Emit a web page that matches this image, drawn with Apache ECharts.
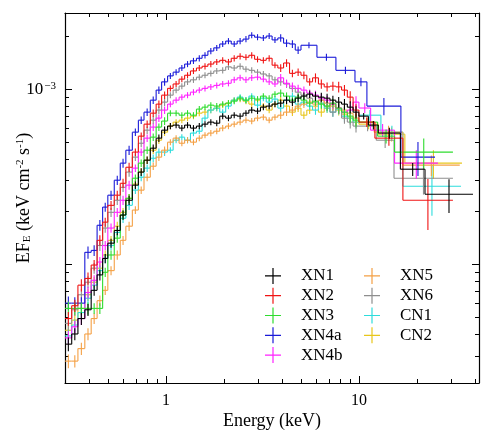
<!DOCTYPE html>
<html>
<head>
<meta charset="utf-8">
<script src="https://cdn.jsdelivr.net/npm/echarts@6/dist/echarts.min.js"></script>
<style>
  html, body { margin: 0; background: #fff; }
  #chart { width: 498px; height: 444px; }
</style>
</head>
<body>
<div id="chart"></div>
<script>
// shared fine channel grid (keV bin edges) and typical % error per channel
const gridEdges = [0.30, 0.325, 0.35, 0.38, 0.41, 0.44, 0.47, 0.50, 0.54, 0.58, 0.62, 0.67, 0.72, 0.77, 0.83, 0.89, 0.95,
  1.02, 1.09, 1.17, 1.25, 1.34, 1.44, 1.54, 1.65, 1.77, 1.90, 2.04, 2.18, 2.34, 2.51, 2.69, 2.88, 3.09, 3.31,
  3.55, 3.80, 4.07, 4.37, 4.68, 5.01, 5.37, 5.75, 6.17, 6.61, 7.08, 7.59, 8.13, 8.71, 9.33, 10.0];
const gridErrPct = [9, 8, 8, 8, 7, 7, 6, 6, 6, 6, 6, 5, 5, 5, 5, 5, 5, 4, 4, 4, 4, 4, 4, 4, 4, 4, 4, 4, 4, 4,
  4, 4, 4, 4, 4, 4, 5, 5, 5, 5, 5, 5, 6, 6, 6, 6, 7, 7, 8, 8];

// EF_E in units of 1e-4 keV cm^-2 s^-1, one value per grid channel
const xn1Flux = [0.35, 0.40, 0.49, 0.55, 0.71, 0.87, 1.08, 1.32, 1.56, 1.91, 2.32, 2.83, 3.36, 3.93, 4.60, 5.25, 5.83, 6.15, 6.23, 5.99,
  6.23, 5.99, 6.15, 6.31, 6.48, 6.39, 7.01, 6.83, 7.10, 7.01, 7.29, 7.59, 7.49, 7.89, 8.0, 8.21, 8.32, 8.65, 8.43, 8.88,
  9.12, 9.36, 9.12, 9.0, 8.88, 8.65, 8.43, 8.21, 7.89, 7.39];
const xn2Flux = [0.49, 0.58, 0.76, 0.83, 0.99, 1.37, 1.74, 2.17, 2.48, 2.90, 3.58, 4.37, 5.39, 6.31, 7.29, 8.21, 9.24, 10.1, 10.7, 11.4,
  12.0, 12.7, 13.2, 13.5, 13.9, 14.3, 14.6, 14.3, 15.0, 15.4, 15.2, 15.6, 14.8, 14.6, 15.0, 13.7, 13.2, 14.1, 12.3, 12.5,
  12.0, 11.0, 11.6, 10.7, 10.3, 10.4, 10.3, 9.87, 9.0, 7.59];
const xn3Flux = [0.56, 0.56, 0.56, 0.56, 0.56, 0.56, 0.90, 1.13, 1.41, 1.91, 2.38, 3.10, 3.78, 4.48, 5.32, 6.07, 6.57, 7.29, 7.29, 7.10,
  7.29, 7.10, 7.69, 7.89, 8.10, 8.0, 8.21, 8.32, 8.54, 8.88, 8.65, 8.88, 8.77, 9.12, 8.88, 9.36, 9.49, 9.12, 8.65, 9.0,
  8.65, 8.32, 8.54, 8.21, 8.0, 8.32, 7.79, 7.39, 7.01, 6.65];
const xn4aFlux = [0.60, 0.60, 0.60, 1.17, 1.20, 1.67, 2.12, 2.48, 3.02, 3.78, 4.48, 5.68, 6.65, 7.39, 8.65, 9.87, 11.0, 11.9, 12.5, 13.2,
  13.9, 14.5, 15.0, 15.6, 16.5, 17.2, 18.1, 18.8, 18.1, 18.8, 19.3, 20.3, 19.8, 19.6, 20.1, 19.1, 19.6, 18.3, 18.1, 16.7];
const xn4bFlux = [0.38, 0.44, 0.49, 0.69, 0.81, 1.03, 1.28, 1.61, 1.98, 2.32, 2.83, 3.54, 4.37, 5.25, 6.07, 6.83, 7.59, 8.21, 8.65, 9.0,
  9.24, 9.61, 9.87, 10.1, 10.3, 10.5, 10.7, 10.8, 11.3, 11.6, 11.3, 11.6, 11.7, 11.4, 11.0, 10.7, 11.6, 10.8, 10.4, 10.1,
  9.87, 9.49, 9.24, 8.88, 8.65, 8.21, 7.79, 7.39, 7.59, 8.43];
const xn5Flux = [0.28, 0.28, 0.33, 0.40, 0.49, 0.62, 0.71, 0.92, 1.13, 1.37, 1.65, 2.04, 2.65, 3.14, 3.63, 4.09, 4.48, 4.98, 5.25, 4.91,
  5.11, 4.98, 5.25, 5.46, 5.61, 5.75, 5.99, 6.15, 6.31, 6.48, 6.65, 6.57, 6.83, 6.92, 6.65, 6.92, 7.10, 7.39, 7.59, 8.0,
  8.21, 8.43, 8.21, 8.65, 8.32, 8.0, 7.79, 7.59, 7.29, 6.83];
const xn6Flux = [0.46, 0.55, 0.67, 0.79, 0.95, 1.28, 1.61, 1.98, 2.32, 2.75, 3.36, 4.09, 4.91, 5.83, 6.65, 7.59, 8.43, 9.24, 9.87, 10.4,
  11.0, 11.3, 11.7, 12.0, 12.3, 12.7, 12.8, 13.4, 13.2, 13.5, 13.0, 12.8, 12.5, 12.2, 11.9, 11.3, 11.0, 10.7, 10.1, 9.61,
  9.24, 8.88, 8.43, 8.65, 8.0, 7.39, 7.79, 6.83, 6.48, 6.15];
const cn1Flux = [0.39, 0.45, 0.53, 0.64, 0.76, 0.92, 1.08, 1.28, 1.52, 1.83, 2.17, 2.65, 3.14, 3.54, 4.03, 4.37, 4.37, 4.48, 5.11, 5.32,
  5.11, 5.61, 5.75, 6.83, 7.59, 7.79, 7.39, 8.0, 8.65, 9.0, 8.65, 9.12, 8.10, 8.88, 8.43, 8.77, 7.79, 8.65, 9.12, 8.21,
  8.43, 8.0, 7.59, 8.32, 7.79, 7.39, 7.69, 7.01, 6.83, 6.48];
const cn2Flux = [0.42, 0.48, 0.56, 0.67, 0.79, 0.95, 1.13, 1.37, 1.65, 1.98, 2.38, 2.87, 3.36, 3.93, 4.48, 5.11, 5.68, 6.15, 6.48, 6.65,
  6.83, 7.01, 7.29, 7.39, 7.59, 7.79, 8.10, 8.32, 8.65, 8.77, 8.54, 8.21, 8.65, 8.0, 7.59, 8.21, 8.65, 8.0, 7.39, 7.79,
  7.10, 7.59, 8.0, 7.39, 7.79, 8.21, 7.59, 7.20, 6.83, 6.48];

// wide high-energy bins: [E low, E high, EF_E, error] (1e-4 units)
const xn1Tail = [[10.0, 11.2, 7.01, 0.3], [11.2, 12.6, 6.23, 0.35], [12.6, 16.4, 5.61, 0.4], [16.4, 22.0, 3.49, 0.3], [22.0, 39.0, 2.51, 0.55]];
const xn2Tail = [[10.0, 12.1, 6.48, 0.4], [12.1, 16.9, 5.25, 0.5], [16.9, 30.7, 2.32, 0.75]];
const xn3Tail = [[10.0, 12.5, 6.48, 0.4], [12.5, 15.3, 5.39, 0.5], [15.3, 30.7, 4.37, 0.85]];
const xn4aTail = [[5.01, 6.06, 17.8, 0.7], [6.06, 7.60, 15.2, 0.7], [7.60, 9.54, 12.8, 0.6], [9.54, 11.0, 11.0, 0.6], [11.0, 16.5, 8.0, 0.9], [16.5, 24.8, 4.09, 0.9]];
const xn4bTail = [[10.0, 11.5, 7.8, 0.5], [11.5, 15.3, 5.83, 0.5], [15.3, 25.7, 3.78, 0.7]];
const xn5Tail = [[10.0, 12.0, 6.48, 0.4], [12.0, 16.9, 5.68, 0.5], [16.9, 33.3, 3.68, 0.5]];
const xn6Tail = [[10.0, 12.3, 6.15, 0.4], [12.3, 15.2, 5.11, 0.5], [15.2, 30.7, 3.10, 0.6]];
const cn1Tail = [[10.0, 13.0, 7.10, 0.5], [13.0, 16.9, 5.68, 0.5], [16.9, 33.8, 2.79, 0.9]];
const cn2Tail = [[10.0, 12.6, 6.31, 0.4], [12.6, 17.3, 5.53, 0.5], [17.3, 34.2, 3.78, 0.7]];

const xMajor = [1, 10];
const xMinor = [0.4, 0.5, 0.6, 0.7, 0.8, 0.9, 2, 3, 4, 5, 6, 7, 8, 9, 20, 30, 40];
const yMajor = [1e-4, 1e-3];
const yMinor = [3e-5, 4e-5, 5e-5, 6e-5, 7e-5, 8e-5, 9e-5, 2e-4, 3e-4, 4e-4, 5e-4, 6e-4, 7e-4, 8e-4, 9e-4, 2e-3];
const yLabelled = [1e-3];

const groups = [
  { name: 'XN1', color: '#000000', flux: xn1Flux, tail: xn1Tail },
  { name: 'XN2', color: '#f01414', flux: xn2Flux, tail: xn2Tail },
  { name: 'XN3', color: '#2edc2e', flux: xn3Flux, tail: xn3Tail },
  { name: 'XN4a', color: '#1a1ad8', flux: xn4aFlux, tail: xn4aTail },
  { name: 'XN4b', color: '#ff22ff', flux: xn4bFlux, tail: xn4bTail },
  { name: 'XN5', color: '#f4a045', flux: xn5Flux, tail: xn5Tail },
  { name: 'XN6', color: '#8e8e8e', flux: xn6Flux, tail: xn6Tail },
  { name: 'CN1', color: '#2ddcdc', flux: cn1Flux, tail: cn1Tail },
  { name: 'CN2', color: '#e8c61c', flux: cn2Flux, tail: cn2Tail },
];

const FONT = '"Liberation Serif", "DejaVu Serif", serif';
const cross = 'path://M0,7.4H16V8.6H0Z M7.4,0H8.6V16H7.4Z';

function binsOf(g) {
  const rows = g.flux.map((f, i) => [gridEdges[i], gridEdges[i + 1], f, f * gridErrPct[i] / 100]);
  g.tail.forEach(t => rows.push(t));
  return rows.map(r => [r[0], r[1], r[2] * 1e-4, r[3] * 1e-4]);
}

function renderBins(rows, color) {
  return function (params, api) {
    const i = params.dataIndex;
    const [lo, hi, f, e] = rows[i];
    const style = { stroke: color, lineWidth: 1.1, fill: null };
    const a = api.coord([lo, f]);
    const b = api.coord([hi, f]);
    const xc = Math.sqrt(lo * hi);
    const t = api.coord([xc, f + e]);
    const u = api.coord([xc, f - e]);
    const children = [
      { type: 'line', shape: { x1: a[0], y1: a[1], x2: b[0], y2: b[1] }, style },
      { type: 'line', shape: { x1: t[0], y1: t[1], x2: u[0], y2: u[1] }, style },
    ];
    if (i > 0) {
      const c = api.coord([lo, rows[i - 1][2]]);
      children.push({ type: 'line', shape: { x1: a[0], y1: c[1], x2: a[0], y2: a[1] }, style });
    }
    return { type: 'group', children };
  };
}

// draw XN1 last so it sits on top
const series = groups.slice().reverse().map(g => {
  const rows = binsOf(g);
  return {
    type: 'custom',
    name: g.name,
    xAxisIndex: 0,
    yAxisIndex: 0,
    clip: true,
    itemStyle: { color: g.color },
    encode: { x: [0, 1], y: 2 },
    data: rows.map(r => [r[0], r[1], r[2]]),
    renderItem: renderBins(rows, g.color),
  };
});

const line = { show: true, lineStyle: { color: '#000', width: 1.2 } };
const X = { type: 'log', logBase: 10, min: 0.3, max: 41.9, splitLine: { show: false } };
const Y = { type: 'log', logBase: 10, min: 2.1e-5, max: 2.72e-3, splitLine: { show: false } };
const tick = (vals, len) => ({ show: true, inside: true, length: len, customValues: vals, lineStyle: { color: '#000', width: 1 } });

const legendCommon = {
  orient: 'vertical', top: 266, padding: 0, itemGap: 0, itemWidth: 46, itemHeight: 16,
  icon: cross, selectedMode: false,
  textStyle: { fontFamily: FONT, fontSize: 17, color: '#000', lineHeight: 19.8 },
};

const chart = echarts.init(document.getElementById('chart'), null, { renderer: 'canvas' });
chart.setOption({
  animation: false,
  backgroundColor: '#fff',
  textStyle: { fontFamily: FONT },
  grid: { left: 65, right: 19, top: 13, bottom: 61, containLabel: false, outerBoundsMode: 'none' },
  legend: [
    Object.assign({ left: 265, data: ['XN1', 'XN2', 'XN3', 'XN4a', 'XN4b'] }, legendCommon),
    Object.assign({ left: 364, data: ['XN5', 'XN6', 'CN1', 'CN2'] }, legendCommon),
  ],
  xAxis: [
    Object.assign({}, X, {
      position: 'bottom', axisLine: line, axisTick: tick(xMajor, 7),
      axisLabel: { customValues: xMajor, margin: 10, color: '#000', fontFamily: FONT, fontSize: 16, formatter: v => String(Math.round(v)) },
      name: 'Energy (keV)', nameLocation: 'middle', nameGap: 29, nameMoveOverlap: false,
      nameTextStyle: { fontFamily: FONT, fontSize: 18, color: '#000' },
    }),
    Object.assign({}, X, { position: 'bottom', axisLine: { show: false }, axisTick: tick(xMinor, 4), axisLabel: { show: false } }),
    Object.assign({}, X, { position: 'top', axisLine: line, axisTick: tick(xMajor, 7), axisLabel: { show: false } }),
    Object.assign({}, X, { position: 'top', axisLine: { show: false }, axisTick: tick(xMinor, 4), axisLabel: { show: false } }),
  ],
  yAxis: [
    Object.assign({}, Y, {
      position: 'left', axisLine: line, axisTick: tick(yMajor, 7),
      axisLabel: {
        customValues: yLabelled, margin: 9, color: '#000', fontFamily: FONT,
        formatter: () => '{b|10}{sup|\u22123}',
        rich: {
          b: { fontFamily: FONT, fontSize: 17, color: '#000' },
          sup: { fontFamily: FONT, fontSize: 11, color: '#000', verticalAlign: 'top', padding: [0, 0, 0, 1] },
        },
      },
      name: '{n|EF}{sub|E}{n| (keV cm}{sup|-2}{n| s}{sup|-1}{n|)}',
      nameLocation: 'middle', nameGap: 32, nameRotate: 90, nameMoveOverlap: false,
      nameTextStyle: {
        rich: {
          n: { fontFamily: FONT, fontSize: 18, color: '#000' },
          sub: { fontFamily: FONT, fontSize: 11, color: '#000', verticalAlign: 'bottom' },
          sup: { fontFamily: FONT, fontSize: 11, color: '#000', verticalAlign: 'top' },
        },
      },
    }),
    Object.assign({}, Y, { position: 'left', axisLine: { show: false }, axisTick: tick(yMinor, 4), axisLabel: { show: false } }),
    Object.assign({}, Y, { position: 'right', axisLine: line, axisTick: tick(yMajor, 7), axisLabel: { show: false } }),
    Object.assign({}, Y, { position: 'right', axisLine: { show: false }, axisTick: tick(yMinor, 4), axisLabel: { show: false } }),
  ],
  series,
});
</script>
</body>
</html>
